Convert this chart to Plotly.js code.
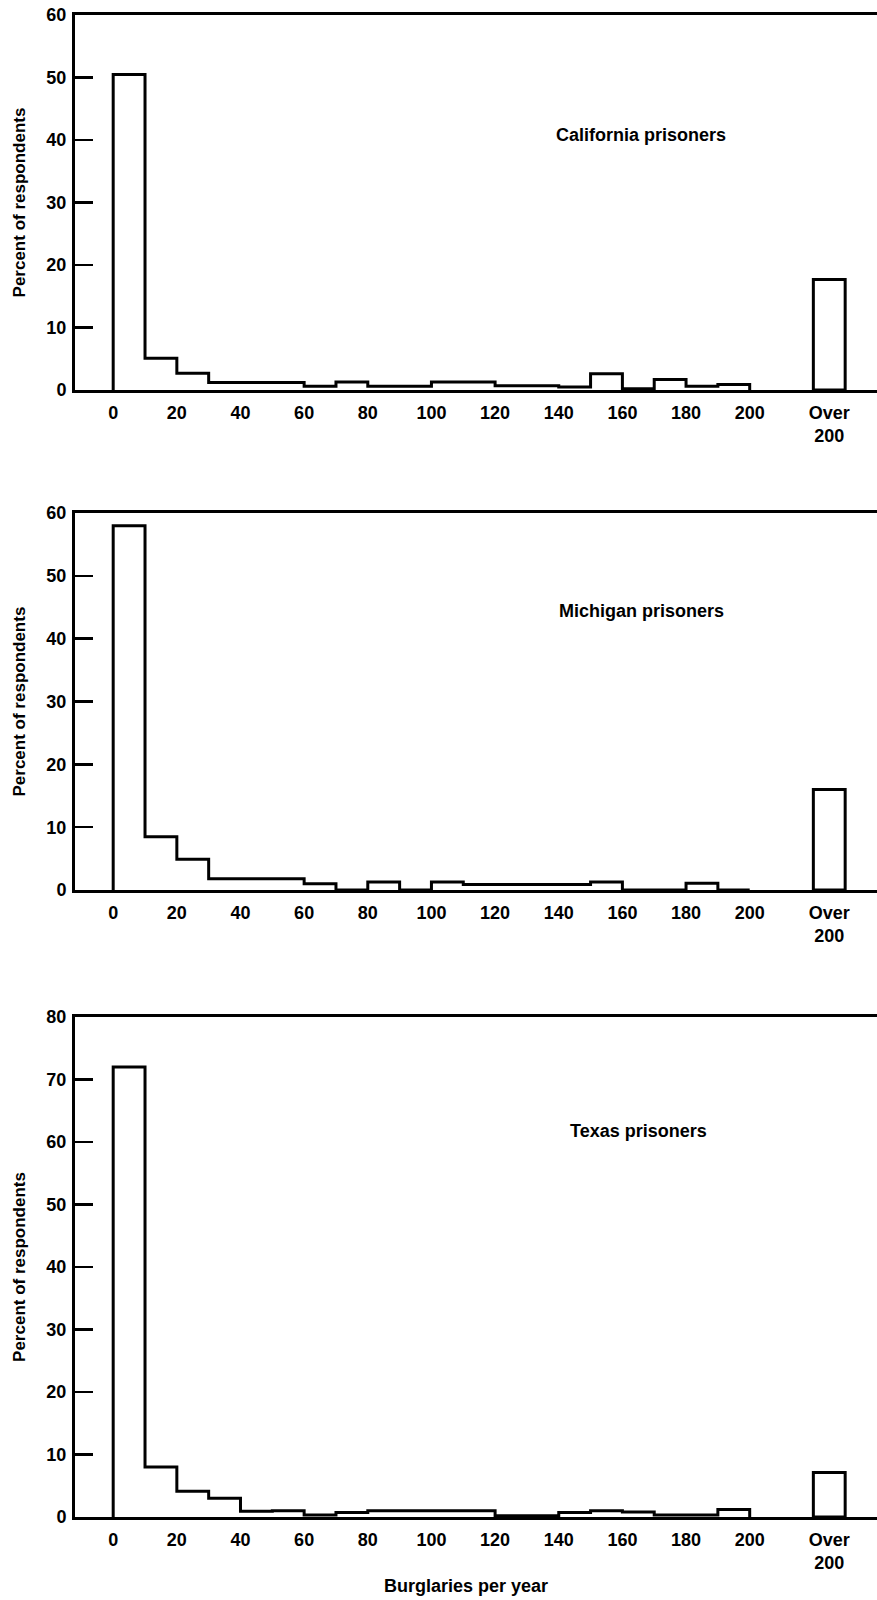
<!DOCTYPE html>
<html>
<head>
<meta charset="utf-8">
<script src="https://cdn.plot.ly/plotly-3.0.1.min.js"></script>
<style>html,body{margin:0;padding:0;background:#fff}</style>
</head>
<body>
<div id="chart" style="width:877px;height:1600px"></div>
<script>
// Bin edges of the 10-burglary-wide classes (0-10, 10-20, ..., 190-200)
const binEdges = [0,10,20,30,40,50,60,70,80,90,100,110,120,130,140,150,160,170,180,190,200];

// Percent of respondents per class
const californiaPct = [50.5,5.1,2.7,1.2,1.2,1.2,0.6,1.3,0.6,0.6,1.3,1.3,0.7,0.7,0.5,2.6,0.2,1.7,0.6,0.9];
const californiaOver200 = 17.7;
const michiganPct = [58,8.5,4.9,1.8,1.8,1.8,1.0,0,1.3,0,1.3,0.9,0.9,0.9,0.9,1.3,0,0,1.1,0];
const michiganOver200 = 16;
const texasPct = [72,8,4.1,3.0,0.9,1.0,0.3,0.7,1.0,1.0,1.0,1.0,0.2,0.2,0.7,1.0,0.8,0.3,0.3,1.2];
const texasOver200 = 7.1;

const panelNames = ['California prisoners','Michigan prisoners','Texas prisoners'];
const over200Position = 225;   // category slot for "Over 200"
const over200Width = 10;

const xTickVals = [0,20,40,60,80,100,120,140,160,180,200,225];
const xTickText = ['0','20','40','60','80','100','120','140','160','180','200','Over<br>200'];
const xTickMarks = [20,40,60,80,100,120,140,160,180,200];
const yTickVals12 = [0,10,20,30,40,50,60];
const yTickVals3 = [0,10,20,30,40,50,60,70,80];

const FONT = 'Liberation Sans, Arial, Helvetica, sans-serif';
const tickFont = {family: FONT, size: 18, color: '#000', weight: 'bold'};

function stepTrace(values, xa, ya) {
  const xs = [binEdges[0]];
  const ys = [0];
  for (let i = 0; i < values.length; i++) { xs.push(binEdges[i]); ys.push(values[i]); }
  xs.push(binEdges[binEdges.length - 1]); ys.push(0);
  return {type: 'scatter', mode: 'lines', x: xs, y: ys, xaxis: xa, yaxis: ya,
          line: {color: '#000', width: 3, shape: 'hv'}, hoverinfo: 'skip', showlegend: false};
}
function overTrace(v, xa, ya) {
  return {type: 'bar', x: [over200Position], y: [v], width: [over200Width], xaxis: xa, yaxis: ya,
          marker: {color: '#fff', line: {color: '#000', width: 3}}, hoverinfo: 'skip', showlegend: false};
}

const series = [californiaPct, michiganPct, texasPct];
const overs = [californiaOver200, michiganOver200, texasOver200];
const domains = [[0.7503, 1], [0.4174, 0.6684], [0, 0.3329]];
const yRanges = [[0, 60], [0, 60], [0, 80]];
const labelPos = [[166, 40.8], [166, 44.4], [165, 61.7]];

const data = [];
const layout = {
  width: 877, height: 1600,
  margin: {l: 75, r: 0, t: 15, b: 83},
  paper_bgcolor: '#fff', plot_bgcolor: '#fff',
  showlegend: false,
  bargap: 0,
  annotations: []
};

for (let p = 0; p < 3; p++) {
  const n = p + 1;
  const xa = 'x' + (n === 1 ? '' : n);
  const ya = 'y' + (n === 1 ? '' : n);
  const tickAxisN = n + 3;
  data.push(overTrace(overs[p], xa, ya));
  data.push(stepTrace(series[p], xa, ya));

  layout['xaxis' + (n === 1 ? '' : n)] = {
    domain: [0, 1], anchor: ya, range: [-12, 240],
    showline: true, linecolor: '#000', linewidth: 3, mirror: true,
    showgrid: false, zeroline: false,
    tickmode: 'array', tickvals: xTickVals, ticktext: xTickText,
    ticks: '', tickfont: tickFont, ticklabelstandoff: 4, fixedrange: true
  };
  layout['xaxis' + tickAxisN] = {
    overlaying: xa, anchor: ya, range: [-12, 240], side: 'bottom',
    showline: false, showgrid: false, zeroline: false,
    tickmode: 'array', tickvals: xTickMarks, ticks: 'inside', ticklen: 20, tickwidth: 2,
    tickcolor: '#000', showticklabels: false, fixedrange: true
  };
  layout['yaxis' + (n === 1 ? '' : n)] = {
    domain: domains[p], anchor: xa, range: yRanges[p],
    showline: true, linecolor: '#000', linewidth: 3, mirror: false,
    showgrid: false, zeroline: false,
    tickmode: 'array', tickvals: p === 2 ? yTickVals3 : yTickVals12,
    ticks: 'inside', ticklen: 18, tickwidth: 2.5, tickcolor: '#000',
    tickfont: tickFont, ticklabelstandoff: 2,
    title: {text: 'Percent of respondents', font: {family: FONT, size: 17, color: '#000', weight: 'bold'}, standoff: 17},
    fixedrange: true
  };
  layout.annotations.push({
    xref: xa, yref: ya, x: labelPos[p][0], y: labelPos[p][1], text: panelNames[p],
    showarrow: false, xanchor: 'center', yanchor: 'middle',
    font: {family: FONT, size: 18, color: '#000', weight: 'bold'}
  });
}
layout.annotations.push({
  xref: 'x3', yref: 'paper', x: 111, y: -0.046, text: 'Burglaries per year',
  showarrow: false, xanchor: 'center', yanchor: 'middle',
  font: {family: FONT, size: 18, color: '#000', weight: 'bold'}
});

Plotly.newPlot('chart', data, layout, {staticPlot: true, displayModeBar: false});
</script>
</body>
</html>
